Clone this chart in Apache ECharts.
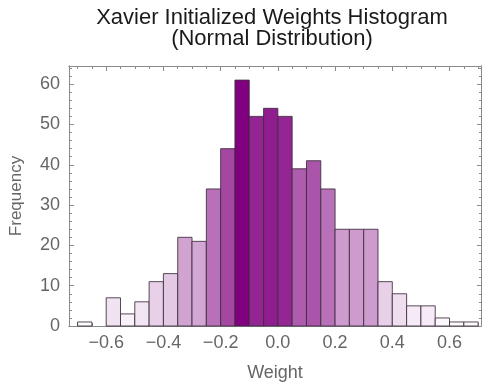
<!DOCTYPE html>
<html>
<head>
<meta charset="utf-8">
<script src="https://cdn.jsdelivr.net/npm/echarts@6/dist/echarts.min.js"></script>
<style>
  html, body { margin: 0; padding: 0; background: #fff; }
  #main { width: 484px; height: 388px; }
</style>
</head>
<body>
<div id="main"></div>
<script>
// bin edges (width 0.05) and counts
var binEdges = [-0.7, -0.65, -0.6, -0.55, -0.5, -0.45, -0.4, -0.35, -0.3, -0.25,
                -0.2, -0.15, -0.1, -0.05, 0, 0.05, 0.1, 0.15, 0.2, 0.25,
                0.3, 0.35, 0.4, 0.45, 0.5, 0.55, 0.6, 0.65, 0.7];
var counts = [1, 0, 7, 3, 6, 11, 13, 22, 21, 34, 44, 61, 52, 54,
              52, 39, 41, 34, 24, 24, 24, 11, 8, 5, 5, 2, 1, 1];

// frame ticks
var xMajorTicks = [-0.6, -0.4, -0.2, 0, 0.2, 0.4, 0.6];
var xMinorTicks = [-0.7, -0.65, -0.55, -0.5, -0.45, -0.35, -0.3, -0.25, -0.15, -0.1, -0.05,
                   0.05, 0.1, 0.15, 0.25, 0.3, 0.35, 0.45, 0.5, 0.55, 0.65, 0.7];
var yMajorTicks = [0, 10, 20, 30, 40, 50, 60];
var yMinorTicks = [2, 4, 6, 8, 12, 14, 16, 18, 22, 24, 26, 28, 32, 34, 36, 38,
                   42, 44, 46, 48, 52, 54, 56, 58, 62, 64];

var histData = [];
for (var i = 0; i < counts.length; i++) {
    if (counts[i] > 0) histData.push([binEdges[i], binEdges[i + 1], counts[i]]);
}

var FONT = "'Liberation Sans', Arial, sans-serif";
var frameColor = '#8a8a8a';

function xAxisDef(pos, ticks, len, withLabels) {
    return {
        type: 'value', position: pos, min: -0.73, max: 0.71,
        axisLine: { show: true, onZero: false, lineStyle: { color: frameColor, width: 1 } },
        axisTick: { show: true, inside: true, length: len, customValues: ticks,
                    lineStyle: { color: frameColor } },
        axisLabel: withLabels ? {
            show: true, customValues: ticks, margin: 8,
            color: '#666', fontSize: 18, fontFamily: FONT,
            formatter: function (v) { return (v < 0 ? '\u2212' : '') + Math.abs(v).toFixed(1); }
        } : { show: false },
        splitLine: { show: false }
    };
}
function yAxisDef(pos, ticks, len, withLabels) {
    return {
        type: 'value', position: pos, min: 0, max: 64.5,
        axisLine: { show: true, onZero: false, lineStyle: { color: frameColor, width: 1 } },
        axisTick: { show: true, inside: true, length: len, customValues: ticks,
                    lineStyle: { color: frameColor } },
        axisLabel: withLabels ? {
            show: true, customValues: ticks, margin: 9,
            color: '#666', fontSize: 18, fontFamily: FONT
        } : { show: false },
        splitLine: { show: false }
    };
}

var xBottom = xAxisDef('bottom', xMajorTicks, 5, true);
xBottom.name = 'Weight';
xBottom.nameLocation = 'middle';
xBottom.nameGap = 38;
xBottom.nameTextStyle = { color: '#666', fontSize: 18, fontFamily: FONT };

var yLeft = yAxisDef('left', yMajorTicks, 5, true);
yLeft.name = 'Frequency';
yLeft.nameLocation = 'middle';
yLeft.nameGap = 44;
yLeft.nameTextStyle = { color: '#666', fontSize: 17, fontFamily: FONT };

var myChart = echarts.init(document.getElementById('main'));

var option = {
    backgroundColor: '#fff',
    animation: false,
    title: {
        text: 'Xavier Initialized Weights Histogram\n(Normal Distribution)',
        left: 272, top: 7, padding: 0, textAlign: 'center',
        textStyle: { color: '#1a1a1a', fontSize: 22, fontWeight: 'normal',
                     fontFamily: FONT, lineHeight: 21 }
    },
    grid: { left: 68, right: 3, top: 66, bottom: 62 },
    visualMap: {
        type: 'continuous', show: false, seriesIndex: 0, dimension: 2,
        min: 0, max: 61, inRange: { color: ['#ffffff', '#800080'] }
    },
    xAxis: [
        xBottom,
        xAxisDef('bottom', xMinorTicks, 3, false),
        xAxisDef('top', xMajorTicks, 5, false),
        xAxisDef('top', xMinorTicks, 3, false)
    ],
    yAxis: [
        yLeft,
        yAxisDef('left', yMinorTicks, 3, false),
        yAxisDef('right', yMajorTicks, 4, false),
        yAxisDef('right', yMinorTicks, 2, false)
    ],
    series: [{
        type: 'custom',
        xAxisIndex: 0, yAxisIndex: 0,
        data: histData,
        encode: { x: [0, 1], y: 2 },
        renderItem: function (params, api) {
            var lo = api.coord([api.value(0), 0]);
            var hi = api.coord([api.value(1), api.value(2)]);
            return {
                type: 'rect',
                shape: { x: lo[0], y: hi[1], width: hi[0] - lo[0], height: lo[1] - hi[1] },
                style: { fill: api.visual('color'), stroke: 'rgba(60,45,60,0.85)', lineWidth: 1 }
            };
        }
    }]
};

myChart.setOption(option);
</script>
</body>
</html>
